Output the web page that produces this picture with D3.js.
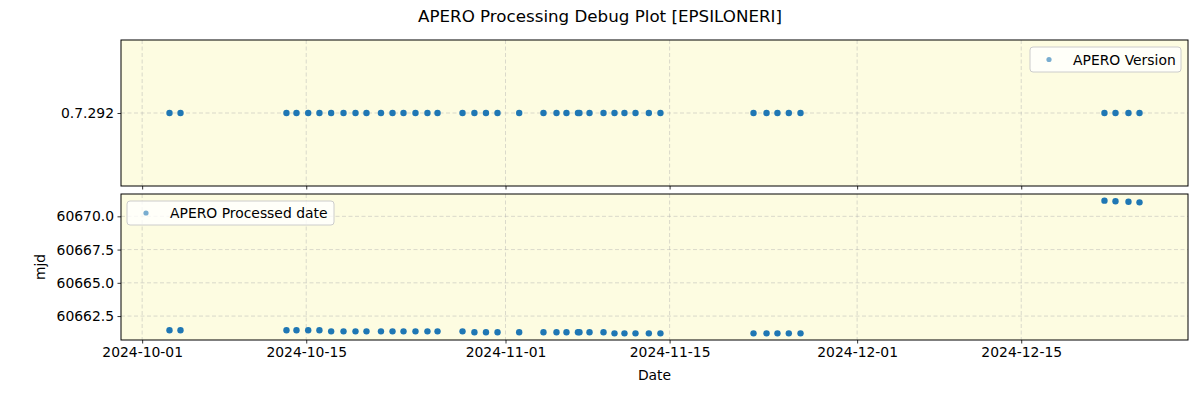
<!DOCTYPE html>
<html>
<head>
<meta charset="utf-8">
<script src="https://cdn.jsdelivr.net/npm/d3@7"></script>
<style>
body{margin:0;background:#fff;}
svg{display:block;font-family:"DejaVu Sans",sans-serif;}
</style>
</head>
<body>
<svg id="chart" width="1200" height="400"></svg>
<script>
const title = "APERO Processing Debug Plot [EPSILONERI]";
const obsDates = [
 "2024-10-03T08:00","2024-10-04T06:30","2024-10-13T07:30","2024-10-14T04:00","2024-10-15T04:00",
 "2024-10-16T03:00","2024-10-17T03:00","2024-10-18T04:20","2024-10-19T04:50","2024-10-20T03:20",
 "2024-10-21T09:00","2024-10-22T08:40","2024-10-23T07:10","2024-10-24T07:40","2024-10-25T08:10",
 "2024-10-26T04:50","2024-10-28T08:00","2024-10-29T08:20","2024-10-30T08:00","2024-10-31T07:40",
 "2024-11-02T04:00","2024-11-04T05:45","2024-11-05T08:25","2024-11-06T04:50","2024-11-07T04:20",
 "2024-11-07T07:25","2024-11-08T04:00","2024-11-09T08:40","2024-11-10T07:10","2024-11-11T03:35",
 "2024-11-12T02:10","2024-11-13T05:30","2024-11-14T05:15","2024-11-22T03:50","2024-11-23T06:30",
 "2024-11-24T04:50","2024-11-25T04:05","2024-11-26T04:05","2024-12-22T02:25","2024-12-23T01:00",
 "2024-12-24T03:35","2024-12-25T02:10"
];
const versions = obsDates.map(() => "0.7.292");
const processedMjd = [
 60661.43,60661.43,60661.43,60661.43,60661.43,
 60661.43,60661.35,60661.35,60661.35,60661.35,
 60661.35,60661.35,60661.35,60661.35,60661.35,
 60661.35,60661.35,60661.28,60661.28,60661.28,
 60661.28,60661.28,60661.28,60661.28,60661.28,
 60661.28,60661.28,60661.28,60661.20,60661.20,
 60661.20,60661.20,60661.20,60661.20,60661.20,
 60661.20,60661.20,60661.20,60671.18,60671.13,
 60671.10,60671.05
];
const xTickLabels = ["2024-10-01","2024-10-15","2024-11-01","2024-11-15","2024-12-01","2024-12-15"];
const yTicksBottom = [60662.5,60665.0,60667.5,60670.0];
const versionCats = ["0.7.292"];

const parse = d3.utcParse("%Y-%m-%dT%H:%M");
const parseDay = d3.utcParse("%Y-%m-%d");
const dates = obsDates.map(parse);
const svg = d3.select("#chart");
const L = 121, R = 1188;
const top1 = 40, bot1 = 186, top2 = 194, bot2 = 340;
const color = "#1f77b4";
const bg = "#fdfce1";
const FS = "13.9px";

const ext = d3.extent(dates);
const span = ext[1] - ext[0];
const x = d3.scaleUtc().domain([new Date(+ext[0] - span*0.05), new Date(+ext[1] + span*0.05)]).range([L, R]);

const yExt = d3.extent(processedMjd);
const ySpan = yExt[1]-yExt[0];
const y2 = d3.scaleLinear().domain([yExt[0]-ySpan*0.05, yExt[1]+ySpan*0.05]).range([bot2, top2]);
const y1 = d3.scalePoint().domain(versionCats).range([bot1, top1]).padding(0.5);

svg.append("text").attr("x",600).attr("y",22).attr("text-anchor","middle")
  .attr("font-size","16.7px").attr("fill","#000").text(title);

const xTicks = xTickLabels.map(parseDay);
function panel(top, bot){
  const g = svg.append("g");
  g.append("rect").attr("x",L).attr("y",top).attr("width",R-L).attr("height",bot-top).attr("fill",bg);
  g.selectAll(".xg").data(xTicks).enter().append("line")
    .attr("x1",d=>x(d)).attr("x2",d=>x(d)).attr("y1",top).attr("y2",bot)
    .attr("stroke","#b0b0b0").attr("stroke-opacity",0.5).attr("stroke-dasharray","4,2.5").attr("stroke-width",0.9);
  return g;
}
const g1 = panel(top1, bot1);
const g2 = panel(top2, bot2);

g1.selectAll(".yg").data(versionCats).enter().append("line")
  .attr("x1",L).attr("x2",R).attr("y1",d=>y1(d)).attr("y2",d=>y1(d))
  .attr("stroke","#b0b0b0").attr("stroke-opacity",0.5).attr("stroke-dasharray","4,2.5").attr("stroke-width",0.9);
g2.selectAll(".yg").data(yTicksBottom).enter().append("line")
  .attr("x1",L).attr("x2",R).attr("y1",d=>y2(d)).attr("y2",d=>y2(d))
  .attr("stroke","#b0b0b0").attr("stroke-opacity",0.5).attr("stroke-dasharray","4,2.5").attr("stroke-width",0.9);

g1.selectAll("circle").data(dates).enter().append("circle")
  .attr("cx",d=>x(d)).attr("cy",(d,i)=>y1(versions[i])).attr("r",3.2).attr("fill",color);
g2.selectAll("circle").data(dates).enter().append("circle")
  .attr("cx",d=>x(d)).attr("cy",(d,i)=>y2(processedMjd[i])).attr("r",3.2).attr("fill",color);

const fmt = d3.utcFormat("%Y-%m-%d");
const xAxisTop = d3.axisBottom(x).tickValues(xTicks).tickFormat("").tickSizeOuter(0).tickSize(3.5);
const xAxisBot = d3.axisBottom(x).tickValues(xTicks).tickFormat(fmt).tickSizeOuter(0).tickSize(3.5).tickPadding(3.5);
svg.append("g").attr("transform",`translate(0,${bot1})`).call(xAxisTop).call(styleAxis);
svg.append("g").attr("transform",`translate(0,${bot2})`).call(xAxisBot).call(styleAxis);
svg.append("g").attr("transform",`translate(${L},0)`).call(d3.axisLeft(y1).tickSizeOuter(0).tickSize(3.5).tickPadding(3.5)).call(styleAxis);
svg.append("g").attr("transform",`translate(${L},0)`).call(d3.axisLeft(y2).tickValues(yTicksBottom).tickFormat(d3.format(".1f")).tickSizeOuter(0).tickSize(3.5).tickPadding(3.5)).call(styleAxis);

function styleAxis(sel){
  sel.select(".domain").remove();
  sel.selectAll("text").attr("font-size",FS).attr("fill","#000").attr("font-family","DejaVu Sans, sans-serif");
  sel.selectAll("line").attr("stroke","#000").attr("stroke-width",0.8);
}

[[top1,bot1],[top2,bot2]].forEach(([t,b])=>{
  svg.append("rect").attr("x",L).attr("y",t).attr("width",R-L).attr("height",b-t)
    .attr("fill","none").attr("stroke","#000").attr("stroke-width",1);
});

svg.append("text").attr("x",(L+R)/2).attr("y",380).attr("text-anchor","middle").attr("font-size",FS).text("Date");
svg.append("text").attr("transform",`translate(45,${(top2+bot2)/2}) rotate(-90)`).attr("text-anchor","middle").attr("font-size",FS).text("mjd");

function legend(x0,y0,w,h,label){
  const g = svg.append("g");
  g.append("rect").attr("x",x0).attr("y",y0).attr("width",w).attr("height",h).attr("rx",3)
    .attr("fill","#fff").attr("fill-opacity",0.8).attr("stroke","#ccc").attr("stroke-width",1);
  g.append("circle").attr("cx",x0+19).attr("cy",y0+h/2).attr("r",2.6).attr("fill",color).attr("fill-opacity",0.6);
  g.append("text").attr("x",x0+43).attr("y",y0+h/2+5).attr("font-size",FS).attr("fill","#000").text(label);
}
legend(1030,47,151,25,"APERO Version");
legend(127,201,207,24,"APERO Processed date");
</script>
</body>
</html>
